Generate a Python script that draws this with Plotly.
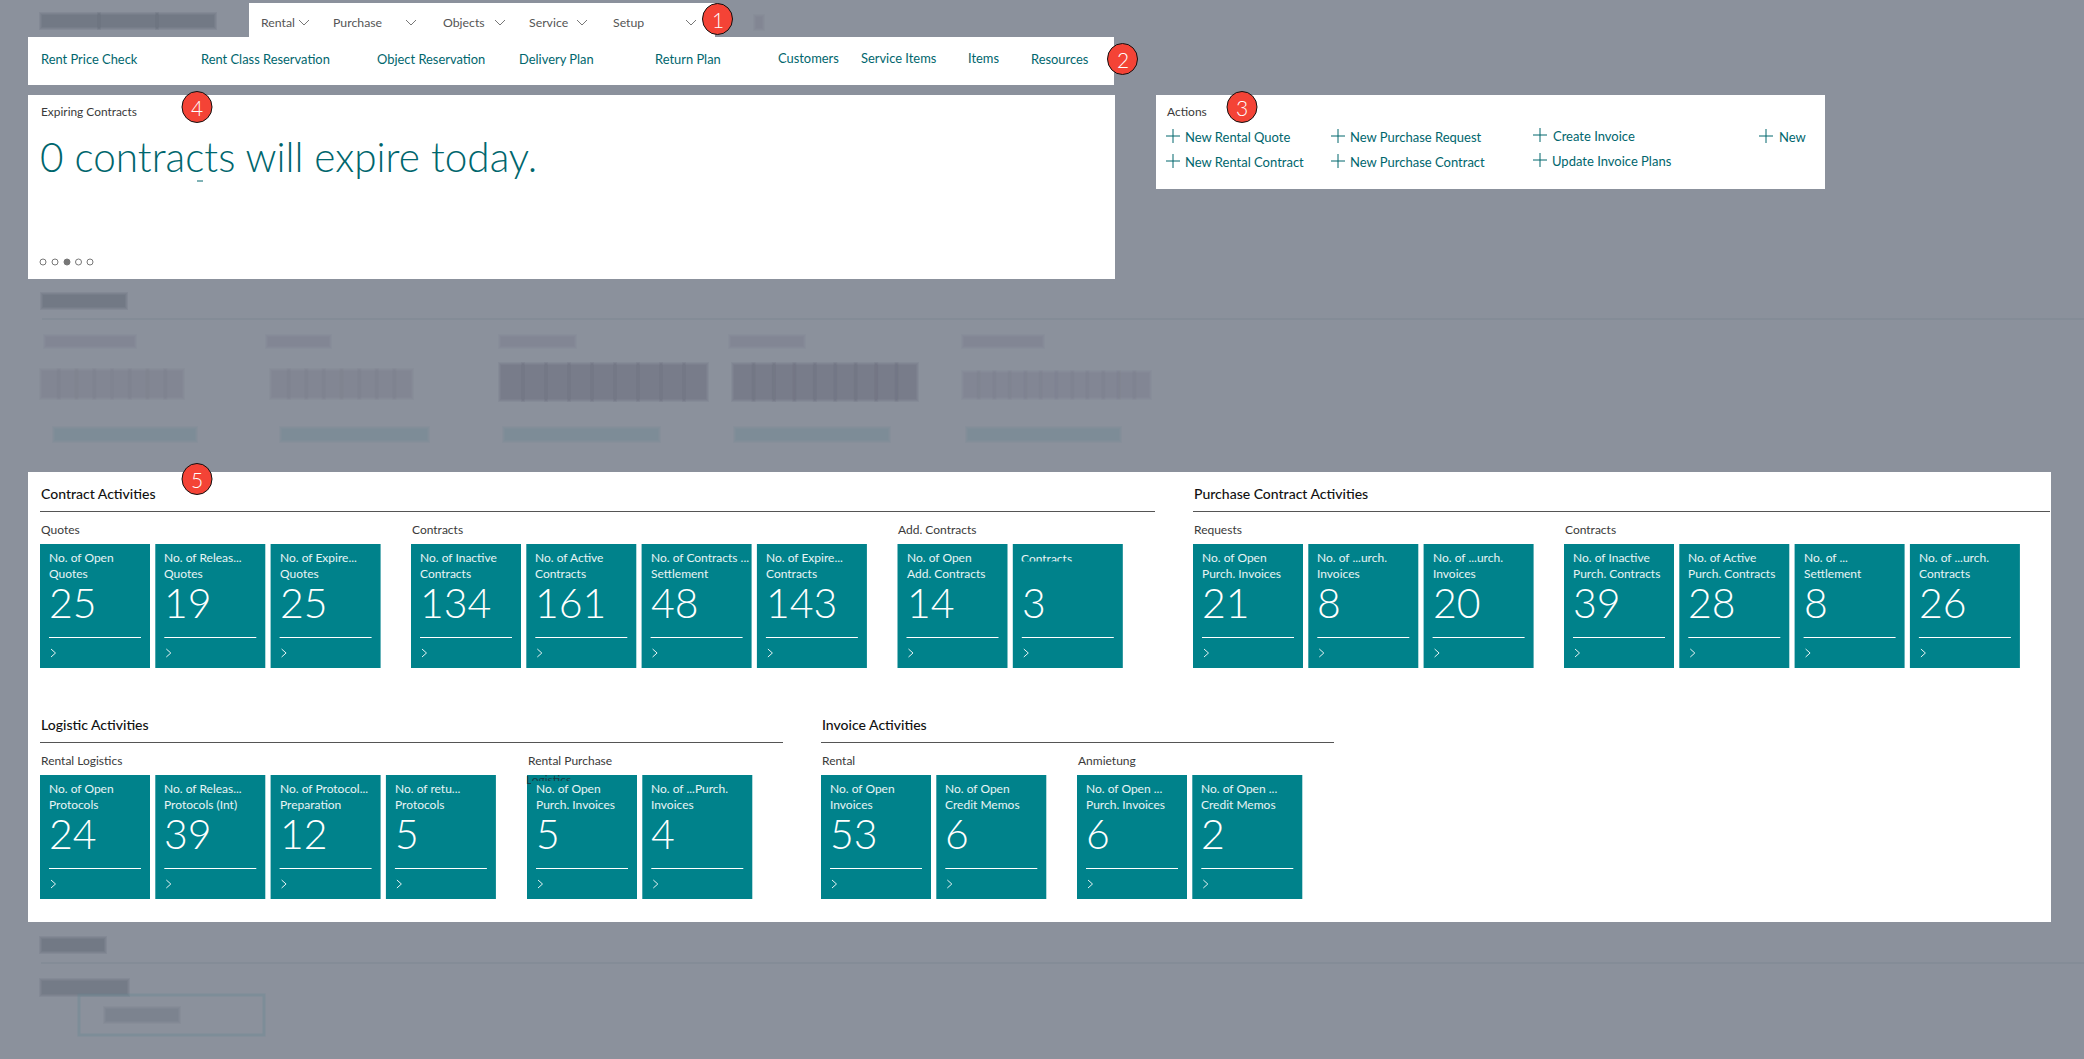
import plotly.graph_objects as go

# Data
menu_items = ["Rental", "Purchase", "Objects", "Service", "Setup"]
nav_links = ["Rent Price Check", "Rent Class Reservation", "Object Reservation", "Delivery Plan",
             "Return Plan", "Customers", "Service Items", "Items", "Resources"]
action_names = ["New Rental Quote", "New Rental Contract", "New Purchase Request", "New Purchase Contract",
                "Create Invoice", "Update Invoice Plans", "New"]
headline = "0 contracts will expire today."

quote_labels = ["No. of Open<br>Quotes", "No. of Releas...<br>Quotes", "No. of Expire...<br>Quotes"]
quote_values = [25, 19, 25]
contract_labels = ["No. of Inactive<br>Contracts", "No. of Active<br>Contracts",
                   "No. of Contracts ...<br>Settlement", "No. of Expire...<br>Contracts"]
contract_values = [134, 161, 48, 143]
add_labels = ["No. of Open<br>Add. Contracts", ""]
add_values = [14, 3]
request_labels = ["No. of Open<br>Purch. Invoices", "No. of ...urch.<br>Invoices", "No. of ...urch.<br>Invoices"]
request_values = [21, 8, 20]
purch_labels = ["No. of Inactive<br>Purch. Contracts", "No. of Active<br>Purch. Contracts",
                "No. of ...<br>Settlement", "No. of ...urch.<br>Contracts"]
purch_values = [39, 28, 8, 26]
logistic_labels = ["No. of Open<br>Protocols", "No. of Releas...<br>Protocols (Int)",
                   "No. of Protocol...<br>Preparation", "No. of retu...<br>Protocols"]
logistic_values = [24, 39, 12, 5]
rental_purch_labels = ["No. of Open<br>Purch. Invoices", "No. of ...Purch.<br>Invoices"]
rental_purch_values = [5, 4]
rental_labels = ["No. of Open<br>Invoices", "No. of Open<br>Credit Memos"]
rental_values = [53, 6]
anmietung_labels = ["No. of Open ...<br>Purch. Invoices", "No. of Open ...<br>Credit Memos"]
anmietung_values = [6, 2]

BG = "#8b919c"
TEAL = "#00828b"
LINK = "#00666d"
DARK = "#3a3a3a"
FONT = "Lato"
TILE_W, TILE_H, PITCH = 110, 124, 115.3

fig = go.Figure()


def rect(x0, y0, x1, y1, color, layer="below", line=None, width=1):
    fig.add_shape(type="rect", xref="x", yref="y", x0=x0, y0=y0, x1=x1, y1=y1, fillcolor=color,
                  layer=layer, line=dict(color=line, width=width) if line else dict(width=0))


def hline(x0, x1, y, color, width=1):
    fig.add_shape(type="line", xref="x", yref="y", x0=x0, x1=x1, y0=y, y1=y, layer="below",
                  line=dict(color=color, width=width))


def path(d, color, width=1):
    fig.add_shape(type="path", xref="x", yref="y", path=d, layer="below", line=dict(color=color, width=width))


def label(x, y, text, size=12, color=DARK, weight=400, anchor="left", family=FONT):
    fig.add_annotation(x=x, y=y, xref="x", yref="y", text=text, showarrow=False, xanchor=anchor, yanchor="middle",
                       align="left", borderpad=0, font=dict(family=family, size=size, color=color, weight=weight))


def smudge(x0, y0, x1, y1, color="rgba(95,105,120,0.12)", cells=1):
    # the redacted parts of the screenshot: soft blocks, stacked to fake the blur
    step = (x1 - x0) / cells
    for c in range(cells):
        a, b = x0 + c * step, x0 + (c + 1) * step - (2 if cells > 1 else 0)
        for pad in (3, 2, 1, 0):
            rect(a - pad, y0 - pad, b + pad, y1 + pad, color)


def badge(x, y, text):
    fig.add_shape(type="circle", xref="x", yref="y", x0=x - 15, x1=x + 15, y0=y - 15.5, y1=y + 15.5,
                  fillcolor="#f44336", line=dict(color="#111111", width=1), layer="above")
    label(x, y, text, size=21, color="#ffffff", weight=300, anchor="center")


def tiles(x0, y0, labels, values, heading=None):
    if heading:
        label(x0 - 0.5, y0 - 15, heading, size=12, color=DARK)
    for i, (name, val) in enumerate(zip(labels, values)):
        x = x0 + i * PITCH
        rect(x, y0, x + TILE_W, y0 + TILE_H, TEAL)
        if name:
            label(x + 8, y0 + 21, name, size=12, color="#e8f4f5")
        label(x + 8, y0 + 58, str(val), size=41, color="#ffffff", weight=300)
        hline(x + 9, x + TILE_W - 9, y0 + 93.5, "#ffffff", 1)
        cx, cy = x + 11, y0 + 109
        path(f"M {cx},{cy - 4} L {cx + 4.5},{cy} L {cx},{cy + 4}", "#e6f3f4")


# Page panels
rect(249, 3, 715, 37, "#ffffff")
rect(28, 37, 1114, 85, "#ffffff")
rect(28, 95, 1115, 279, "#ffffff")
rect(1156, 95, 1825, 189, "#ffffff")
rect(28, 472, 2051, 922, "#ffffff")

# Redacted background content
smudge(42, 15, 216, 27, "rgba(95,100,115,0.16)", cells=3)
smudge(756, 17, 762, 28, "rgba(95,100,115,0.06)")
smudge(43, 295, 125, 307, "rgba(95,100,115,0.16)")
hline(42, 2084, 319, "rgba(110,125,135,0.22)", 2)
for x0, x1 in [(46, 134), (268, 329), (501, 574), (731, 803), (964, 1042)]:
    smudge(x0, 337, x1, 346, "rgba(95,105,120,0.05)")
for x0, x1, y0, y1, n, col in [(42, 184, 371, 397, 8, "rgba(95,105,120,0.06)"),
                               (272, 413, 371, 397, 8, "rgba(95,105,120,0.06)"),
                               (501, 708, 365, 399, 9, "rgba(85,92,105,0.10)"),
                               (734, 918, 365, 399, 9, "rgba(85,92,105,0.10)"),
                               (964, 1151, 373, 397, 12, "rgba(95,105,120,0.05)")]:
    smudge(x0, y0, x1, y1, col, cells=n)
for x0, x1 in [(55, 195), (282, 427), (505, 658), (736, 888), (968, 1119)]:
    smudge(x0, 429, x1, 440, "rgba(100,130,145,0.09)")
smudge(42, 939, 104, 951, "rgba(95,100,115,0.16)")
hline(41, 2084, 963, "rgba(110,125,135,0.22)", 2)
smudge(42, 981, 127, 994, "rgba(95,100,115,0.14)")
rect(79, 995, 264, 1035, "rgba(0,0,0,0)", line="rgba(100,135,145,0.35)", width=3)
smudge(106, 1009, 178, 1021, "rgba(95,105,120,0.08)")

# Menu
for x, chev, name in zip([260, 332, 442, 528, 612], [304, 411, 500, 582, 691], menu_items):
    label(x, 22, name, size=12.3, color="#555555")
    path(f"M {chev - 5},{20} L {chev},{25} L {chev + 5},{20}", "#777777")

# Navigation links
for x, y, name in zip([40, 200, 376, 518, 654, 777, 860, 967, 1030],
                      [59, 59, 59, 59, 59, 58, 58, 58, 59], nav_links):
    label(x, y, name, size=12.9, color=LINK)

# Expiring contracts
label(40, 111.5, "Expiring Contracts", size=11.9, color=DARK)
label(39, 156, headline, size=40.5, color=LINK, weight=300)
hline(197, 203, 181, LINK, 1)
for i, x in enumerate([43, 55, 67, 78.5, 90]):
    filled = i == 2
    fig.add_shape(type="circle", xref="x", yref="y", x0=x - 3, x1=x + 3, y0=259, y1=265, layer="below",
                  fillcolor="#777777" if filled else "#ffffff", line=dict(color="#777777", width=1))

# Actions
label(1166, 111.5, "Actions", size=12, color=DARK)
for px, tx, ry, name in zip([1173, 1173, 1338, 1338, 1540, 1540, 1766],
                            [1184, 1184, 1349, 1349, 1552, 1551, 1778],
                            [136, 161, 136, 161, 135, 160, 136], action_names):
    path(f"M {px - 7},{ry} L {px + 7},{ry} M {px},{ry - 7} L {px},{ry + 7}", LINK)
    label(tx, ry + 1, name, size=13, color=LINK)

# Section headings and rules
for x, y, x1, name in [(40, 493, 1155, "Contract Activities"), (1193, 493, 2050, "Purchase Contract Activities"),
                       (40, 724, 783, "Logistic Activities"), (821, 724, 1334, "Invoice Activities")]:
    label(x - 0.5, y, name, size=14, color="#111111", weight=500)
    hline(x, x1, y + 18.5, "#555555", 1)

# Tiles
tiles(40, 544, quote_labels, quote_values, "Quotes")
tiles(411, 544, contract_labels, contract_values, "Contracts")
tiles(897.5, 544, add_labels, add_values, "Add. Contracts")
tiles(1193, 544, request_labels, request_values, "Requests")
tiles(1564, 544, purch_labels, purch_values, "Contracts")
tiles(40, 775, logistic_labels, logistic_values, "Rental Logistics")
tiles(527, 775, rental_purch_labels, rental_purch_values, "Rental Purchase")
tiles(821, 775, rental_labels, rental_values, "Rental")
tiles(1077, 775, anmietung_labels, anmietung_values, "Anmietung")

# The two labels that are cut off in the original
fig.add_trace(go.Scatter(x=[1021], y=[559.5], mode="text", text=["Contracts"], textposition="middle right",
                         textfont=dict(family=FONT, size=12, color="#e8f4f5")))
rect(1016, 561.5, 1118, 570, TEAL, layer="above")
fig.add_trace(go.Scatter(x=[526], y=[781], mode="text", text=["Logistics"], textposition="middle right",
                         textfont=dict(family=FONT, size=12, color="#1c3a44")))
rect(531, 781, 630, 790, TEAL, layer="above")

# Numbered callouts
badge(717.5, 19, "1")
badge(1122.5, 59, "2")
badge(1242, 107, "3")
badge(197, 107, "4")
badge(197, 479, "5")

fig.update_layout(
    width=2084,
    height=1059,
    margin=dict(l=0, r=0, t=0, b=0),
    paper_bgcolor=BG,
    plot_bgcolor=BG,
    showlegend=False,
    xaxis=dict(range=[0, 2084], visible=False, fixedrange=True),
    yaxis=dict(range=[1059, 0], visible=False, fixedrange=True),
)

fig.write_html("out.html", post_script="document.body.style.margin='0';document.body.style.overflow='hidden';",
               config={"displayModeBar": False})
